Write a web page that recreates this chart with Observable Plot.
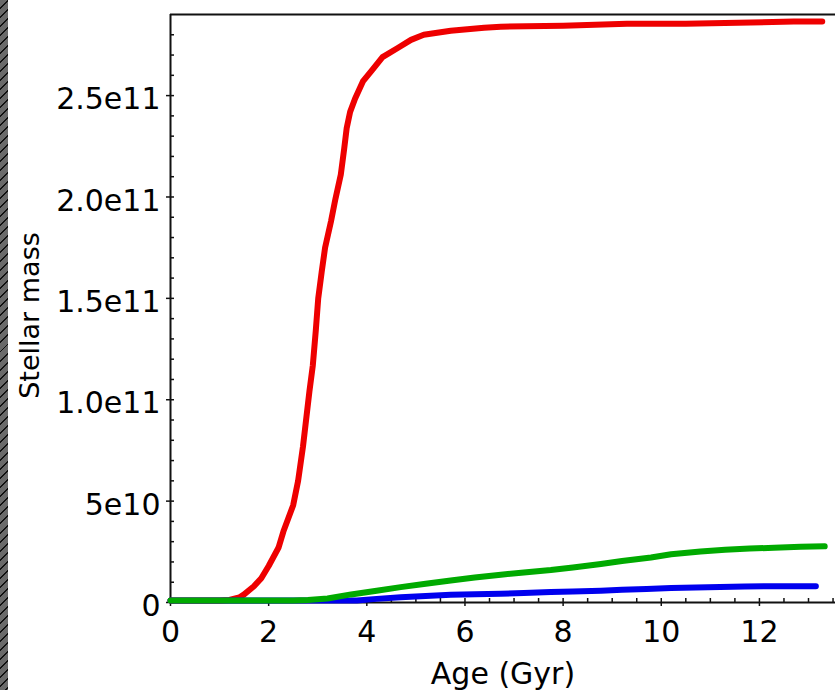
<!DOCTYPE html>
<html><head><meta charset="utf-8">
<script src="https://cdn.jsdelivr.net/npm/d3@7"></script>
<script src="https://cdn.jsdelivr.net/npm/@observablehq/plot@0.6"></script>
<style>
html,body{margin:0;padding:0;background:#fff;}
#wrap{position:relative;width:835px;height:690px;overflow:hidden;}
#strip{position:absolute;left:0;top:0;width:8px;height:690px;background:repeating-linear-gradient(135deg,#6a6a6a 0 5px,#111 5px 6.4px);}
</style></head><body><div id="wrap"><div id="strip"></div></div>
<script>
// Red series (age Gyr, mass in 1e11)
const redAge  = [0, 1.0, 1.2, 1.4, 1.5, 1.7, 1.85, 2.0, 2.2, 2.3, 2.5, 2.6, 2.7, 2.83, 2.9, 2.96, 3.01, 3.08, 3.15, 3.27, 3.36, 3.47, 3.54, 3.59, 3.66, 3.76, 3.92, 4.12, 4.32, 4.63, 4.9, 5.16, 5.71, 6.39, 6.73, 8.0, 9.3, 10.5, 12.7, 13.28];
const redMass = [0, 0, 0.003, 0.015, 0.03, 0.07, 0.11, 0.17, 0.26, 0.34, 0.47, 0.59, 0.76, 1.03, 1.16, 1.33, 1.49, 1.62, 1.74, 1.87, 1.98, 2.10, 2.23, 2.33, 2.41, 2.475, 2.56, 2.62, 2.68, 2.725, 2.765, 2.79, 2.81, 2.825, 2.83, 2.835, 2.845, 2.845, 2.855, 2.855];
// Green series (mass in 1e10)
const greenAge  = [0, 2.5, 2.8, 3.2, 3.68, 4.2, 4.69, 5.2, 5.71, 6.2, 6.73, 7.2, 7.75, 8.2, 8.77, 9.2, 9.79, 10.2, 10.8, 11.3, 11.8, 12.3, 12.84, 13.33];
const greenMass = [0, 0, 0.03, 0.1, 0.3, 0.48, 0.66, 0.83, 0.99, 1.13, 1.27, 1.38, 1.5, 1.63, 1.8, 1.95, 2.12, 2.28, 2.42, 2.5, 2.56, 2.6, 2.65, 2.67];
// Blue series (mass in 1e10)
const blueAge  = [0, 3.8, 4.2, 4.69, 5.2, 5.71, 6.2, 6.73, 7.2, 7.75, 8.2, 8.77, 9.2, 9.7, 10.2, 10.7, 11.2, 11.7, 12.2, 12.7, 13.15];
const blueMass = [0, 0, 0.08, 0.16, 0.22, 0.28, 0.31, 0.33, 0.37, 0.42, 0.44, 0.48, 0.53, 0.57, 0.62, 0.64, 0.66, 0.69, 0.7, 0.7, 0.7];

// Ticks
const xMajor = [0, 2, 4, 6, 8, 10, 12];
const xTickLabels = ["0", "2", "4", "6", "8", "10", "12"];
const xMinor = d3.range(0, 13.51, 0.5);
const yMajor = [0, 5e10, 1e11, 1.5e11, 2e11, 2.5e11];
const yTickLabels = ["0", "5e10", "1.0e11", "1.5e11", "2.0e11", "2.5e11"];
const yMinor = d3.range(0, 2.81e11, 1e10);
const xLabel = "Age (Gyr)";
const yLabel = "Stellar mass";

const red = redAge.map((a, i) => ({age: a, mass: redMass[i] * 1e11}));
const green = greenAge.map((a, i) => ({age: a, mass: greenMass[i] * 1e10}));
const blue = blueAge.map((a, i) => ({age: a, mass: blueMass[i] * 1e10}));

const xFmt = new Map(xMajor.map((v, i) => [v, xTickLabels[i]]));
const yFmt = new Map(yMajor.map((v, i) => [v, yTickLabels[i]]));

const frame = "#111";
const chart = Plot.plot({
  width: 835, height: 690,
  marginLeft: 170, marginRight: 0, marginTop: 14, marginBottom: 88,
  style: {fontFamily: "'DejaVu Sans', sans-serif", fontSize: "30px", background: "transparent", color: "#000"},
  x: {domain: [0, 13.55], label: null},
  y: {domain: [0, 2.9e11], label: null},
  marks: [
    // frame
    Plot.ruleY([2.9e11], {stroke: frame, strokeWidth: 2}),
    Plot.ruleX([0], {stroke: frame, strokeWidth: 2}),
    Plot.ruleY([0], {stroke: frame, strokeWidth: 2}),
    // x ticks
    Plot.axisX(xMinor, {tickSize: -4, tickFormat: () => "", stroke: frame, strokeWidth: 1.5}),
    Plot.axisX(xMajor, {tickSize: 4, tickPadding: 14, tickFormat: d => xFmt.get(d), stroke: frame, strokeWidth: 1.5}),
    // y ticks
    Plot.axisY(yMinor, {tickSize: -4, tickFormat: () => "", stroke: frame, strokeWidth: 1.5}),
    Plot.axisY(yMajor, {tickSize: 4, tickFormat: () => "", stroke: frame, strokeWidth: 1.5}),
    Plot.axisY(yMajor, {tickSize: 0, tickPadding: 10, dy: 4, tickFormat: d => yFmt.get(d)}),
    // labels
    Plot.text([xLabel], {frameAnchor: "bottom", textAnchor: "middle", lineAnchor: "top", dy: 60, text: d => d}),
    Plot.text([yLabel], {frameAnchor: "left", textAnchor: "middle", lineAnchor: "middle", rotate: -90, dx: -140, dy: 7, fontSize: 27, text: d => d}),
    // series
    Plot.line(red, {x: "age", y: "mass", stroke: "#ee0000", strokeWidth: 6, dy: -2}),
    Plot.line(blue, {x: "age", y: "mass", stroke: "#0000ee", strokeWidth: 6, dy: -2}),
    Plot.line(green, {x: "age", y: "mass", stroke: "#00aa00", strokeWidth: 6, dy: -2})
  ]
});
document.getElementById("wrap").appendChild(chart);
</script>
</body></html>
